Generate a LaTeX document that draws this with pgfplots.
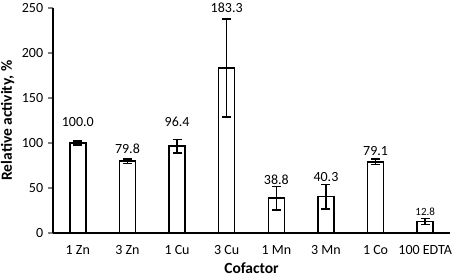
\documentclass[border=0pt]{standalone}
\usepackage{fontspec}
\setmainfont{Carlito}
\usepackage{pgfplots}
\usepackage{pgfplotstable}
\pgfplotsset{compat=1.18}
\pgfplotstableread{
x y err
0 100.0 2
1 79.8 2.5
2 96.4 7.5
3 183.3 54.5
4 38.8 13
5 40.3 13.5
6 79.1 3
7 12.8 3.5
}\bars
\pgfplotstableread{
x y label
0 118.4 100.0
1 87.8 79.8
2 118.4 96.4
3 245.0 183.3
4 54.4 38.8
5 57.3 40.3
6 86.2 79.1
}\labels
\pgfplotstableread{
x y label
7 19.2 12.8
}\labelsb
\begin{document}
\fontsize{14bp}{16bp}\selectfont
\begin{tikzpicture}
\path[use as bounding box] (0,0) rectangle (459bp,276bp);
\begin{axis}[
 at={(53bp,43bp)}, anchor=south west,
 scale only axis, width=397bp, height=225bp,
 xmin=-0.5, xmax=7.5, ymin=0, ymax=250,
 axis x line=bottom, axis y line=left,
 axis line style={-, line width=1.5bp},
 xtick={0,...,7},
 xticklabels={1 Zn,3 Zn,1 Cu,3 Cu,1 Mn,3 Mn,1 Co,100 EDTA},
 xtick style={draw=none},
 ytick={0,50,...,250},
 ytick style={line width=1.5bp},
 tick align=outside, major tick length=5bp,
 /pgf/number format/assume math mode=true,
 ticklabel style={font=\fontsize{14bp}{16bp}\selectfont},
 xticklabel style={yshift=-3bp},
 xlabel={Cofactor}, ylabel={Relative activity, \%},
 label style={font=\fontsize{15.5bp}{18bp}\selectfont\bfseries},
 xlabel style={yshift=2bp},
 ylabel style={yshift=-2bp},
 clip=false,
]
\addplot[ybar, bar shift=0pt, bar width=16bp, fill=white, draw=black, line width=1.5bp,
  error bars/.cd, y dir=both, y explicit,
  error bar style={line width=1.5bp},
  error mark options={rotate=90, mark size=4.5bp, line width=1.5bp}]
  table[x=x, y=y, y error=err] {\bars};
\addplot[draw=none, mark=none, nodes near coords, point meta=explicit symbolic,
  nodes near coords style={anchor=base, inner sep=0pt, font=\fontsize{14bp}{16bp}\selectfont}]
  table[x=x, y=y, meta=label] {\labels};
\addplot[draw=none, mark=none, nodes near coords, point meta=explicit symbolic,
  nodes near coords style={anchor=base, inner sep=0pt, font=\fontsize{11bp}{13bp}\selectfont}]
  table[x=x, y=y, meta=label] {\labelsb};
\end{axis}
\end{tikzpicture}
\end{document}
